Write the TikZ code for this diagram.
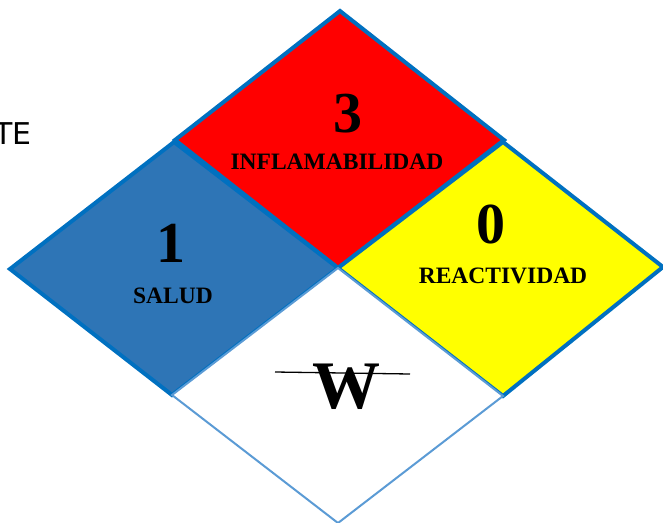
\documentclass[tikz,border=0pt]{standalone}
\usepackage{fontspec}
\setmainfont{Liberation Serif}
\newfontfamily\tefont{DejaVu Sans}
\definecolor{nfpaBorder}{HTML}{0070C0}
\definecolor{nfpaThin}{HTML}{5B9BD5}
\definecolor{nfpaBlue}{HTML}{2E75B6}
\definecolor{nfpaRed}{HTML}{FF0000}
\definecolor{nfpaYellow}{HTML}{FFFF00}
\begin{document}
\begin{tikzpicture}[x=1pt,y=-1pt,
  panel/.style={draw=nfpaBorder,line width=4pt,line join=miter},
  whitepanel/.style={draw=nfpaThin,line width=2pt,fill=white,line join=miter},
  bignum/.style={font=\bfseries\fontsize{58}{58}\selectfont,anchor=base,inner sep=0pt},
  label/.style={font=\bfseries\fontsize{23.5}{24}\selectfont,anchor=base,inner sep=0pt}]
\useasboundingbox (0,0) rectangle (663,522);
% corners
\coordinate (rT) at (340,11);
\coordinate (rL) at (175,140);
\coordinate (C) at (338,268);
\coordinate (rR) at (504,140);
\coordinate (bT) at (174,142);
\coordinate (bL) at (10,269);
\coordinate (bB) at (172,395);
\coordinate (yT) at (503,142);
\coordinate (yR) at (663,267);
\coordinate (yB) at (503,396);
\coordinate (wB) at (338,523);
% panels
\filldraw[panel,fill=nfpaRed] (rT) -- (rR) -- (C) -- (rL) -- cycle;
\filldraw[panel,fill=nfpaBlue] (bT) -- (C) -- (bB) -- (bL) -- cycle;
\filldraw[panel,fill=nfpaYellow] (yT) -- (yR) -- (yB) -- (C) -- cycle;
\filldraw[whitepanel] (C) -- (yB) -- (wB) -- (bB) -- cycle;
% texts
\node[bignum] (n3) at (348,132) {3};
\node[label] (lInf) at (337,169) {INFLAMABILIDAD};
\node[bignum] (n1) at (171,262) {1};
\node[label] (lSal) at (173,303) {SALUD};
\node[bignum] (n0) at (491,243) {0};
\node[label] (lRea) at (503,283) {REACTIVIDAD};
\node[font=\bfseries\fontsize{68}{68}\selectfont,anchor=base,inner sep=0pt] (nW) at (346,408) {W};
\coordinate (sL) at (275,372);
\coordinate (sR) at (410,374);
\draw[black,line width=1.3pt] (sL) -- (sR);
\node[font=\tefont\fontsize{30}{30}\selectfont,anchor=base east,inner sep=0pt] (te) at (32,144) {TE};
\end{tikzpicture}
\end{document}
